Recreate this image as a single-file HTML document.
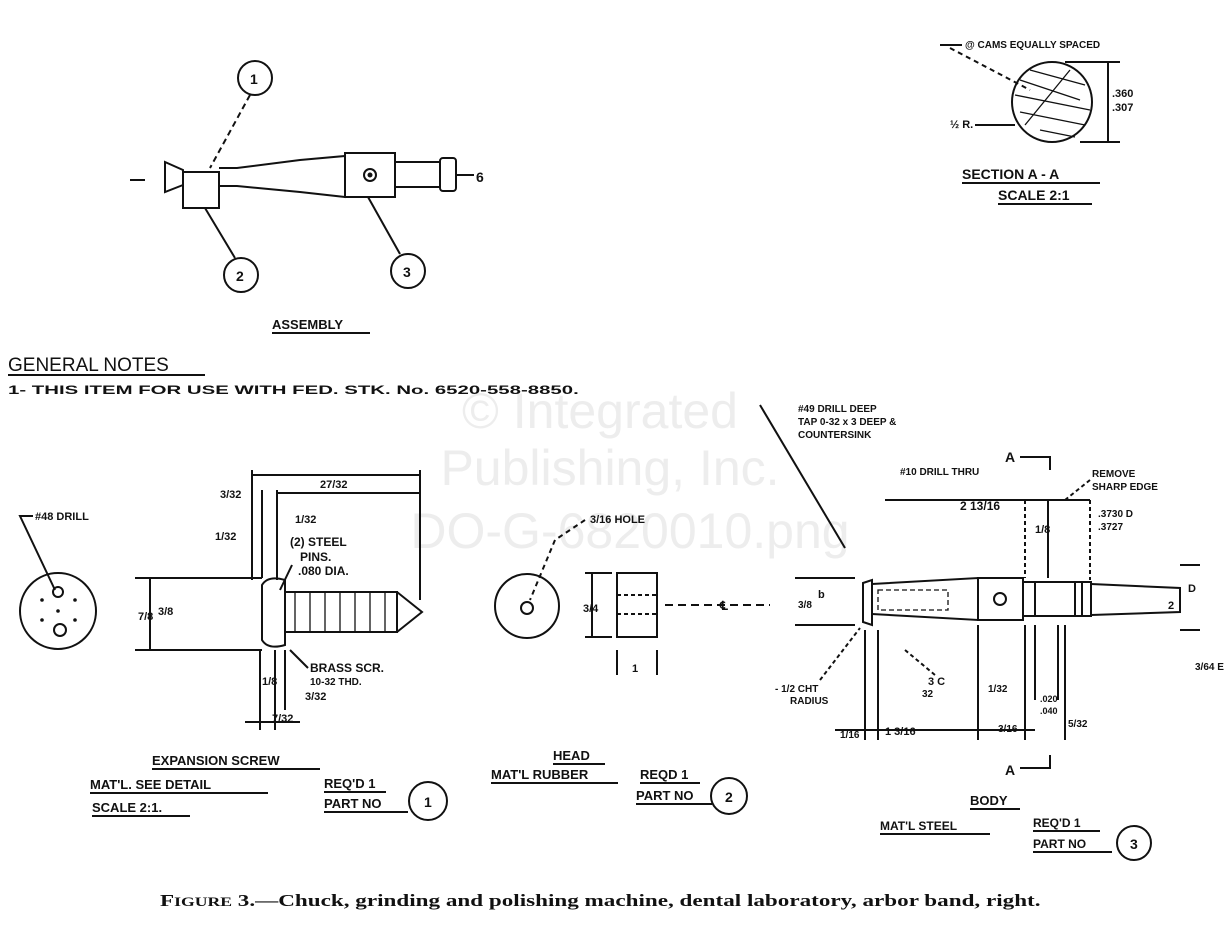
<!DOCTYPE html>
<html><head><meta charset="utf-8"><style>
html,body{margin:0;padding:0;background:#fff;}
svg{display:block;}
text{font-family:"Liberation Sans",sans-serif;fill:#111;font-weight:bold;}
</style></head><body>
<svg width="1229" height="940" viewBox="0 0 1229 940" xmlns="http://www.w3.org/2000/svg" stroke="#111" fill="none" stroke-width="2">
<!-- watermark -->
<g stroke="none" font-size="50" text-anchor="middle">
<text x="600" y="428" style="fill:#ededed;font-weight:normal">© Integrated</text>
<text x="610" y="485" style="fill:#ededed;font-weight:normal">Publishing, Inc.</text>
<text x="630" y="548" style="fill:#ededed;font-weight:normal">DO-G-6820010.png</text>
</g>

<!-- ASSEMBLY -->
<circle cx="255" cy="78" r="17"/><text x="250" y="84" stroke="none" font-size="14">1</text>
<circle cx="241" cy="275" r="17"/><text x="236" y="281" stroke="none" font-size="14">2</text>
<circle cx="408" cy="271" r="17"/><text x="403" y="277" stroke="none" font-size="14">3</text>
<path d="M165 162 L183 170 L183 185 L165 192 Z"/>
<rect x="183" y="172" width="36" height="36"/>
<path d="M219 168 L237 168 L300 160 L345 156 L345 197 L300 192 L237 186 L219 186"/>
<rect x="345" y="153" width="50" height="44"/>
<circle cx="370" cy="175" r="6"/><circle cx="370" cy="175" r="1.5" fill="#111"/>
<rect x="395" y="162" width="45" height="25"/>
<rect x="440" y="158" width="16" height="33" rx="3"/>
<line x1="456" y1="175" x2="474" y2="175"/>
<text x="476" y="182" stroke="none" font-size="14">6</text>
<line x1="250" y1="95" x2="210" y2="168" stroke-dasharray="6 4"/>
<line x1="205" y1="208" x2="235" y2="258"/>
<line x1="368" y1="197" x2="400" y2="254"/>
<line x1="130" y1="180" x2="145" y2="180"/>
<text x="272" y="329" stroke="none" font-size="13">ASSEMBLY</text>
<line x1="272" y1="333" x2="370" y2="333"/>

<!-- SECTION A-A -->
<text x="965" y="48" stroke="none" font-size="10">@ CAMS EQUALLY SPACED</text>
<line x1="940" y1="45" x2="962" y2="45"/>
<line x1="950" y1="48" x2="1030" y2="90" stroke-dasharray="5 4"/>
<circle cx="1052" cy="102" r="40"/>
<g stroke-width="1.3">
<line x1="1020" y1="80" x2="1080" y2="100"/><line x1="1015" y1="95" x2="1090" y2="110"/>
<line x1="1020" y1="112" x2="1085" y2="125"/><line x1="1030" y1="70" x2="1085" y2="85"/>
<line x1="1040" y1="130" x2="1075" y2="137"/><line x1="1025" y1="125" x2="1070" y2="70"/>
</g>
<line x1="1065" y1="62" x2="1120" y2="62"/><line x1="1080" y1="142" x2="1120" y2="142"/>
<line x1="1108" y1="62" x2="1108" y2="142"/>
<text x="1112" y="97" stroke="none" font-size="11">.360</text>
<text x="1112" y="111" stroke="none" font-size="11">.307</text>
<text x="950" y="128" stroke="none" font-size="11">½ R.</text>
<line x1="975" y1="125" x2="1015" y2="125"/>
<text x="962" y="179" stroke="none" font-size="14">SECTION A - A</text>
<line x1="962" y1="183" x2="1100" y2="183"/>
<text x="998" y="200" stroke="none" font-size="14">SCALE 2:1</text>
<line x1="998" y1="204" x2="1092" y2="204"/>

<!-- GENERAL NOTES -->
<text x="8" y="371" stroke="none" font-size="19" style="font-weight:normal">GENERAL NOTES</text>
<line x1="8" y1="375" x2="205" y2="375"/>
<text transform="translate(8,394) scale(1.70,1)" stroke="none" font-size="12">1- THIS ITEM FOR USE WITH FED. STK. No. 6520-558-8850.</text>

<!-- DRILL -->
<text x="35" y="520" stroke="none" font-size="11">#48 DRILL</text>
<path d="M33 516 L20 516 L55 590"/>
<circle cx="58" cy="611" r="38"/>
<circle cx="58" cy="592" r="5"/><circle cx="60" cy="630" r="6"/>
<g fill="#111" stroke="none"><circle cx="42" cy="600" r="1.8"/><circle cx="75" cy="600" r="1.8"/><circle cx="42" cy="620" r="1.8"/><circle cx="75" cy="620" r="1.8"/><circle cx="58" cy="611" r="1.8"/></g>

<!-- EXPANSION SCREW -->
<path d="M262 585 Q268 575 285 580 L285 645 Q268 650 262 640 Z"/>
<rect x="285" y="592" width="112" height="40"/>
<path d="M397 592 L422 612 L397 632"/>
<g stroke-width="1.3"><line x1="295" y1="592" x2="295" y2="632"/><line x1="310" y1="592" x2="310" y2="632"/><line x1="325" y1="592" x2="325" y2="632"/><line x1="340" y1="592" x2="340" y2="632"/><line x1="355" y1="592" x2="355" y2="632"/><line x1="370" y1="592" x2="370" y2="632"/><line x1="385" y1="592" x2="385" y2="632"/></g>
<line x1="135" y1="578" x2="262" y2="578"/><line x1="135" y1="650" x2="262" y2="650"/>
<line x1="150" y1="578" x2="150" y2="650"/>
<text x="138" y="620" stroke="none" font-size="11">7/8</text>
<text x="158" y="615" stroke="none" font-size="11">3/8</text>
<line x1="252" y1="470" x2="252" y2="580"/><line x1="262" y1="490" x2="262" y2="578"/>
<line x1="277" y1="490" x2="277" y2="580"/><line x1="420" y1="470" x2="420" y2="600"/>
<line x1="252" y1="475" x2="420" y2="475"/><line x1="277" y1="493" x2="420" y2="493"/>
<text x="320" y="488" stroke="none" font-size="11">27/32</text>
<text x="220" y="498" stroke="none" font-size="11">3/32</text>
<text x="295" y="523" stroke="none" font-size="11">1/32</text>
<text x="215" y="540" stroke="none" font-size="11">1/32</text>
<text x="290" y="546" stroke="none" font-size="12">(2) STEEL</text>
<text x="300" y="561" stroke="none" font-size="12">PINS.</text>
<text x="298" y="575" stroke="none" font-size="12">.080 DIA.</text>
<line x1="292" y1="565" x2="280" y2="590"/>
<text x="310" y="672" stroke="none" font-size="12">BRASS SCR.</text>
<text x="310" y="685" stroke="none" font-size="10">10-32 THD.</text>
<line x1="290" y1="650" x2="308" y2="668"/>
<line x1="260" y1="650" x2="260" y2="730"/><line x1="275" y1="650" x2="275" y2="730"/>
<line x1="285" y1="650" x2="285" y2="710"/>
<text x="262" y="685" stroke="none" font-size="11">1/8</text>
<text x="305" y="700" stroke="none" font-size="11">3/32</text>
<text x="272" y="722" stroke="none" font-size="11">7/32</text>
<line x1="245" y1="722" x2="300" y2="722"/>
<text x="152" y="765" stroke="none" font-size="13">EXPANSION SCREW</text>
<line x1="152" y1="769" x2="320" y2="769"/>
<text x="90" y="789" stroke="none" font-size="13">MAT'L. SEE DETAIL</text>
<line x1="90" y1="793" x2="268" y2="793"/>
<text x="92" y="812" stroke="none" font-size="13">SCALE 2:1.</text>
<line x1="92" y1="816" x2="190" y2="816"/>
<text x="324" y="788" stroke="none" font-size="13">REQ'D 1</text>
<line x1="324" y1="792" x2="386" y2="792"/>
<text x="324" y="808" stroke="none" font-size="13">PART NO</text>
<line x1="324" y1="812" x2="408" y2="812"/>
<circle cx="428" cy="801" r="19"/><text x="424" y="807" stroke="none" font-size="14">1</text>

<!-- HEAD -->
<circle cx="527" cy="606" r="32"/>
<circle cx="527" cy="608" r="6"/>
<text x="590" y="523" stroke="none" font-size="11">3/16 HOLE</text>
<line x1="585" y1="520" x2="555" y2="540" stroke-dasharray="5 4"/>
<line x1="555" y1="540" x2="530" y2="600" stroke-dasharray="5 4"/>
<rect x="617" y="573" width="40" height="64"/>
<line x1="617" y1="595" x2="657" y2="595" stroke-dasharray="4 3"/><line x1="617" y1="614" x2="657" y2="614" stroke-dasharray="4 3"/>
<line x1="585" y1="573" x2="612" y2="573"/><line x1="585" y1="637" x2="612" y2="637"/>
<line x1="592" y1="573" x2="592" y2="637"/>
<text x="583" y="612" stroke="none" font-size="11">3/4</text>
<line x1="617" y1="650" x2="617" y2="675"/><line x1="657" y1="650" x2="657" y2="675"/>
<text x="632" y="672" stroke="none" font-size="11">1</text>
<line x1="665" y1="605" x2="770" y2="605" stroke-dasharray="8 5"/>
<text x="720" y="610" stroke="none" font-size="12">℄</text>
<text x="553" y="760" stroke="none" font-size="13">HEAD</text>
<line x1="553" y1="764" x2="605" y2="764"/>
<text x="491" y="779" stroke="none" font-size="13">MAT'L RUBBER</text>
<line x1="491" y1="783" x2="618" y2="783"/>
<text x="640" y="779" stroke="none" font-size="13">REQD 1</text>
<line x1="640" y1="783" x2="700" y2="783"/>
<text x="636" y="800" stroke="none" font-size="13">PART NO</text>
<line x1="636" y1="804" x2="712" y2="804"/>
<circle cx="729" cy="796" r="18"/><text x="725" y="802" stroke="none" font-size="14">2</text>

<!-- BODY -->
<text x="798" y="412" stroke="none" font-size="10">#49 DRILL DEEP</text>
<text x="798" y="425" stroke="none" font-size="10">TAP 0-32 x 3 DEEP &amp;</text>
<text x="798" y="438" stroke="none" font-size="10">COUNTERSINK</text>
<line x1="760" y1="405" x2="845" y2="548"/>
<text x="900" y="475" stroke="none" font-size="10">#10 DRILL THRU</text>
<text x="1005" y="462" stroke="none" font-size="14">A</text>
<path d="M1020 457 L1050 457 L1050 470"/>
<text x="1005" y="775" stroke="none" font-size="14">A</text>
<path d="M1020 768 L1050 768 L1050 755"/>
<text x="1092" y="477" stroke="none" font-size="10">REMOVE</text>
<text x="1092" y="490" stroke="none" font-size="10">SHARP EDGE</text>
<line x1="1090" y1="480" x2="1065" y2="500" stroke-dasharray="4 3"/>
<path d="M863 583 L872 580 L872 625 L863 622 Z"/>
<path d="M872 584 L978 578 L978 620 L872 614"/>
<rect x="978" y="578" width="45" height="42"/>
<circle cx="1000" cy="599" r="6"/>
<rect x="1023" y="582" width="68" height="34"/>
<line x1="1035" y1="582" x2="1035" y2="616"/><line x1="1075" y1="582" x2="1075" y2="616"/><line x1="1082" y1="582" x2="1082" y2="616"/>
<path d="M1091 584 L1180 588 L1180 612 L1091 615"/>
<rect x="878" y="590" width="70" height="20" stroke-dasharray="5 3" stroke-width="1.3"/>
<line x1="885" y1="500" x2="1090" y2="500"/>
<text x="960" y="510" stroke="none" font-size="12">2 13/16</text>
<line x1="1025" y1="500" x2="1025" y2="578" stroke-dasharray="4 3"/>
<line x1="1048" y1="500" x2="1048" y2="578"/>
<text x="1035" y="533" stroke="none" font-size="11">1/8</text>
<line x1="1090" y1="500" x2="1090" y2="580" stroke-dasharray="4 3"/>
<text x="1098" y="517" stroke="none" font-size="10">.3730 D</text>
<text x="1098" y="530" stroke="none" font-size="10">.3727</text>
<line x1="1180" y1="565" x2="1200" y2="565"/><line x1="1180" y1="630" x2="1200" y2="630"/>
<text x="1188" y="592" stroke="none" font-size="11">D</text>
<text x="1168" y="609" stroke="none" font-size="11">2</text>
<text x="1195" y="670" stroke="none" font-size="10">3/64 E</text>
<line x1="795" y1="578" x2="855" y2="578"/><line x1="795" y1="625" x2="855" y2="625"/>
<text x="798" y="608" stroke="none" font-size="10">3/8</text>
<text x="818" y="598" stroke="none" font-size="11">b</text>
<text x="775" y="692" stroke="none" font-size="10">- 1/2 CHT</text>
<text x="790" y="704" stroke="none" font-size="10">RADIUS</text>
<line x1="820" y1="680" x2="860" y2="628" stroke-dasharray="4 3"/>
<line x1="865" y1="630" x2="865" y2="740"/><line x1="878" y1="630" x2="878" y2="740"/>
<line x1="835" y1="730" x2="1035" y2="730"/>
<text x="840" y="738" stroke="none" font-size="10">1/16</text>
<text x="885" y="735" stroke="none" font-size="11">1 3/16</text>
<line x1="905" y1="650" x2="935" y2="675" stroke-dasharray="4 3"/>
<text x="928" y="685" stroke="none" font-size="11">3 C</text><text x="922" y="697" stroke="none" font-size="10">32</text>
<line x1="978" y1="625" x2="978" y2="740"/>
<text x="988" y="692" stroke="none" font-size="10">1/32</text>
<text x="998" y="732" stroke="none" font-size="10">3/16</text>
<line x1="1025" y1="625" x2="1025" y2="740"/>
<line x1="1035" y1="625" x2="1035" y2="700"/><line x1="1058" y1="625" x2="1058" y2="700"/>
<text x="1040" y="702" stroke="none" font-size="9">.020</text><text x="1040" y="714" stroke="none" font-size="9">.040</text>
<line x1="1065" y1="625" x2="1065" y2="740"/>
<text x="1068" y="727" stroke="none" font-size="10">5/32</text>
<text x="970" y="805" stroke="none" font-size="13">BODY</text>
<line x1="970" y1="809" x2="1020" y2="809"/>
<text x="880" y="830" stroke="none" font-size="12">MAT'L STEEL</text>
<line x1="880" y1="834" x2="990" y2="834"/>
<text x="1033" y="827" stroke="none" font-size="12">REQ'D 1</text>
<line x1="1033" y1="831" x2="1100" y2="831"/>
<text x="1033" y="848" stroke="none" font-size="12">PART NO</text>
<line x1="1033" y1="852" x2="1112" y2="852"/>
<circle cx="1134" cy="843" r="17"/><text x="1130" y="849" stroke="none" font-size="14">3</text>

<!-- CAPTION -->
<text transform="translate(160,906) scale(1.36,1)" stroke="none" font-size="17" style="font-family:'Liberation Serif',serif">F<tspan font-size="13">IGURE</tspan> 3.—Chuck, grinding and polishing machine, dental laboratory, arbor band, right.</text>
</svg>
</body></html>
